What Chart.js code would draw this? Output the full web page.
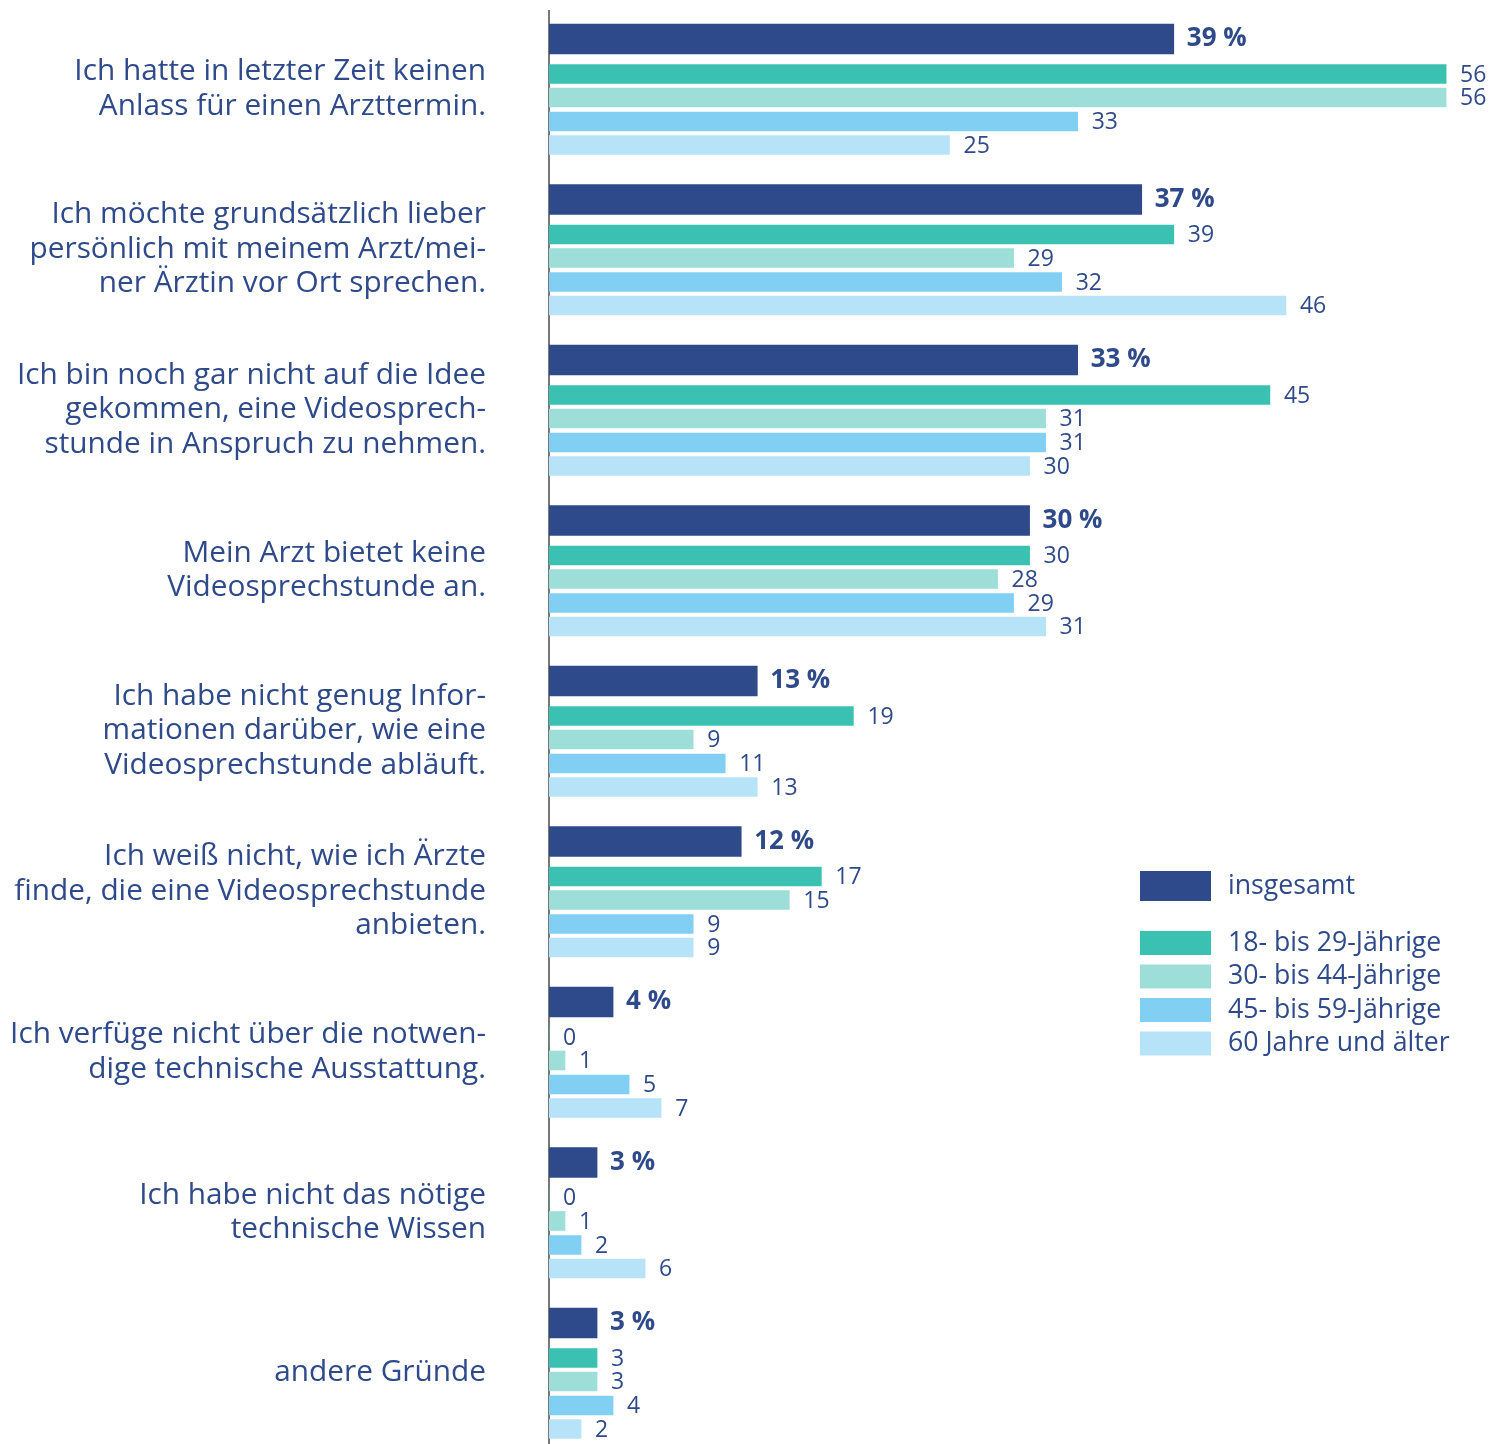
<!DOCTYPE html>
<html>
<head>
<meta charset="utf-8">
<script src="https://cdn.jsdelivr.net/npm/chart.js@4/dist/chart.umd.min.js"></script>
<style>
  html, body { margin: 0; padding: 0; background: #ffffff; }
  #wrap { position: relative; width: 1489px; height: 1444px; }
</style>
</head>
<body>
<div id="wrap"><canvas id="c"></canvas></div>
<script>
// ---- data ----
const categories = [
  ["Ich hatte in letzter Zeit keinen", "Anlass für einen Arzttermin."],
  ["Ich möchte grundsätzlich lieber", "persönlich mit meinem Arzt/mei-", "ner Ärztin vor Ort sprechen."],
  ["Ich bin noch gar nicht auf die Idee", "gekommen, eine Videosprech-", "stunde in Anspruch zu nehmen."],
  ["Mein Arzt bietet keine", "Videosprechstunde an."],
  ["Ich habe nicht genug Infor-", "mationen darüber, wie eine", "Videosprechstunde abläuft."],
  ["Ich weiß nicht, wie ich Ärzte", "finde, die eine Videosprechstunde", "anbieten."],
  ["Ich verfüge nicht über die notwen-", "dige technische Ausstattung."],
  ["Ich habe nicht das nötige", "technische Wissen"],
  ["andere Gründe"]
];
const seriesNames = ["insgesamt", "18- bis 29-Jährige", "30- bis 44-Jährige", "45- bis 59-Jährige", "60 Jahre und älter"];
const insgesamt  = [39, 37, 33, 30, 13, 12, 4, 3, 3];
const age18to29  = [56, 39, 45, 30, 19, 17, 0, 0, 3];
const age30to44  = [56, 29, 31, 28,  9, 15, 1, 1, 3];
const age45to59  = [33, 32, 31, 29, 11,  9, 5, 2, 4];
const age60plus  = [25, 46, 30, 31, 13,  9, 7, 6, 2];

// ---- styles / layout ----
const seriesValues = [insgesamt, age18to29, age30to44, age45to59, age60plus];
const colors = ["#2e4a8a", "#3bc1b1", "#9ddfd8", "#82cff4", "#b6e3f8"];
const textColor = "#2e4a8a";
const FONT = "'Open Sans', 'Noto Sans', sans-serif";
const TOP_PAD = 11;
const GROUP_PX = 160.5;
const CANVAS_H = 1444;
const AXIS_X = 549;
const rowCenterPx = [28, 63, 86.5, 110.5, 134];
const thickness = [30, 19, 19, 19, 19];
const labelCenterPx = 78;

const datasets = seriesValues.map((vals, d) => ({
  label: seriesNames[d],
  data: vals.map((v, i) => ({ x: v, y: i + rowCenterPx[d] / GROUP_PX })),
  backgroundColor: colors[d],
  borderWidth: 0,
  barThickness: thickness[d],
  grouped: false
}));

const valueLabels = {
  id: 'valueLabels',
  afterDatasetsDraw(chart) {
    const ctx = chart.ctx;
    ctx.save();
    ctx.fillStyle = textColor;
    ctx.textBaseline = 'middle';
    ctx.textAlign = 'left';
    chart.data.datasets.forEach((ds, d) => {
      const meta = chart.getDatasetMeta(d);
      meta.data.forEach((bar, i) => {
        const v = ds.data[i].x;
        if (d === 0) {
          ctx.font = "bold 26px " + FONT;
          ctx.fillText(v + " %", bar.x + 13, bar.y);
        } else {
          ctx.font = "23px " + FONT;
          ctx.fillText(String(v), bar.x + 14, bar.y + 1);
        }
      });
    });
    ctx.restore();
  }
};

const customLegend = {
  id: 'customLegend',
  afterDraw(chart) {
    const ctx = chart.ctx;
    ctx.save();
    ctx.font = "26.7px " + FONT;
    ctx.textBaseline = 'middle';
    ctx.textAlign = 'left';
    const boxX = 1140, boxW = 71, textX = 1228;
    chart.data.datasets.forEach((ds, d) => {
      let cy, h;
      if (d === 0) { cy = 886; h = 30; }
      else { cy = 943 + (d - 1) * 33.5; h = 24; }
      ctx.fillStyle = ds.backgroundColor;
      ctx.fillRect(boxX, cy - h / 2, boxW, h);
      ctx.fillStyle = textColor;
      ctx.fillText(ds.label, textX, cy);
    });
    ctx.restore();
  }
};

new Chart(document.getElementById('c'), {
  type: 'bar',
  data: { datasets },
  plugins: [valueLabels, customLegend],
  options: {
    indexAxis: 'y',
    responsive: true,
    maintainAspectRatio: false,
    animation: false,
    layout: { padding: { top: TOP_PAD, left: 0, right: 0, bottom: 0 } },
    plugins: { legend: { display: false }, tooltip: { enabled: false } },
    scales: {
      x: {
        type: 'linear',
        display: false,
        min: 0,
        max: (1489 - AXIS_X) / 16.02
      },
      y: {
        type: 'linear',
        reverse: true,
        offset: false,
        min: 0,
        max: (CANVAS_H - TOP_PAD) / GROUP_PX,
        z: 1,
        grid: { display: false, drawTicks: false, offset: false },
        border: { display: true, color: '#777777', width: 2 },
        afterFit(scale) {
          scale.width = AXIS_X;
          scale.paddingTop = 0;
          scale.paddingBottom = 0;
        },
        afterBuildTicks(scale) {
          scale.ticks = categories.map((c, i) => ({ value: i + labelCenterPx / GROUP_PX }));
        },
        ticks: {
          autoSkip: false,
          padding: 63,
          color: textColor,
          font: { family: FONT, size: 29.8, lineHeight: 34.5 / 29.8 },
          callback: (value, index) => categories[index]
        }
      }
    }
  }
});
</script>
</body>
</html>
